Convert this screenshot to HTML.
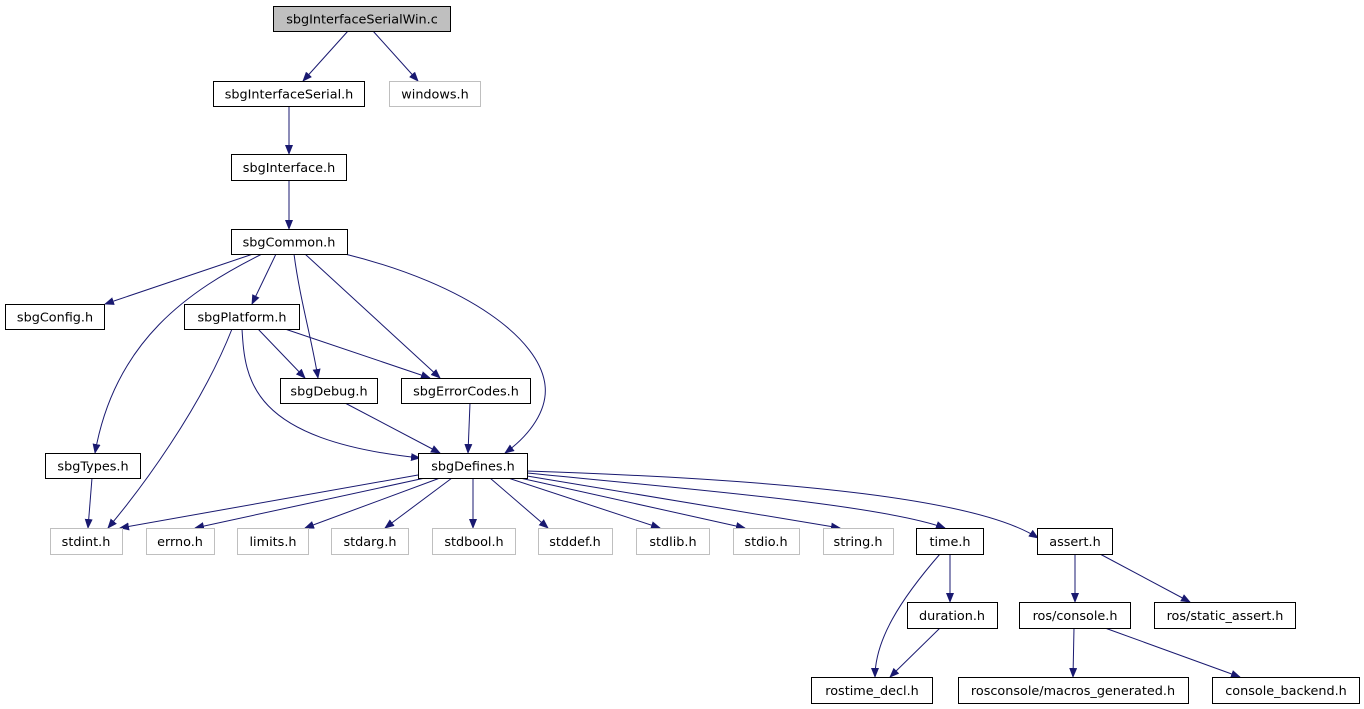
<!DOCTYPE html>
<html><head><meta charset="utf-8"><style>
html,body{margin:0;padding:0;background:#fff;width:1364px;height:709px;overflow:hidden}
svg text{font-family:"DejaVu Sans","Liberation Sans",sans-serif;font-size:12.8px;text-anchor:middle}
</style></head><body>
<svg width="1364" height="709" viewBox="0 0 1364 709" xmlns="http://www.w3.org/2000/svg">
<defs><marker id="a" markerWidth="10" markerHeight="8" refX="9" refY="4" orient="auto" markerUnits="userSpaceOnUse"><path d="M0,0 L10,4 L0,8 Z" fill="#191970"/></marker></defs>
<g fill="none" stroke="#191970" stroke-width="1" marker-end="url(#a)">
<path d="M348,31 L303,81"/>
<path d="M373,31 L418,81"/>
<path d="M289,106 L289,154"/>
<path d="M289,180 L289,229"/>
<path d="M253,254 L105,304"/>
<path d="M276,254 L252,304"/>
<path d="M262,254 C190,290 115,340 95,453"/>
<path d="M294,254 C300,300 312,340 318,378"/>
<path d="M305,254 L440,378"/>
<path d="M345,254 C470,285 540,340 545,385 C548,410 530,435 505,453"/>
<path d="M258,329 L305,378"/>
<path d="M285,329 L430,378"/>
<path d="M242,329 C245,380 250,440 420,458"/>
<path d="M232,329 C200,410 140,490 108,528"/>
<path d="M345,403 L440,453"/>
<path d="M470,403 L468,453"/>
<path d="M92,478 L88,528"/>
<path d="M418,475 L120,528"/>
<path d="M425,478 L195,528"/>
<path d="M440,478 L305,528"/>
<path d="M452,478 L385,528"/>
<path d="M473,478 L473,528"/>
<path d="M490,478 L548,528"/>
<path d="M508,478 L660,528"/>
<path d="M520,478 L745,528"/>
<path d="M527,476 L840,528"/>
<path d="M527,473 C700,490 880,505 945,528"/>
<path d="M527,471 C800,480 980,500 1038,538"/>
<path d="M950,554 L950,602"/>
<path d="M940,554 C900,600 875,640 875,677"/>
<path d="M940,628 L890,677"/>
<path d="M1075,554 L1075,602"/>
<path d="M1100,554 L1190,602"/>
<path d="M1074,628 L1073,677"/>
<path d="M1105,628 L1240,677"/>
</g>
<g stroke-width="1">
<rect x="273.5" y="6.5" width="177" height="25" fill="#bfbfbf" stroke="#000"/>
<g fill="#fff" stroke="#000">
<rect x="213.5" y="81.5" width="151" height="25"/>
<rect x="231.5" y="154.5" width="115" height="26"/>
<rect x="231.5" y="229.5" width="116" height="25"/>
<rect x="5.5" y="304.5" width="99" height="25"/>
<rect x="184.5" y="304.5" width="115" height="25"/>
<rect x="280.5" y="378.5" width="97" height="25"/>
<rect x="401.5" y="378.5" width="129" height="25"/>
<rect x="45.5" y="453.5" width="95" height="25"/>
<rect x="418.5" y="453.5" width="109" height="25"/>
<rect x="916.5" y="528.5" width="67" height="26"/>
<rect x="1037.5" y="528.5" width="75" height="26"/>
<rect x="907.5" y="602.5" width="90" height="26"/>
<rect x="1019.5" y="602.5" width="111" height="26"/>
<rect x="1154.5" y="602.5" width="141" height="26"/>
<rect x="811.5" y="677.5" width="121" height="26"/>
<rect x="958.5" y="677.5" width="230" height="26"/>
<rect x="1212.5" y="677.5" width="147" height="26"/>
</g>
<g fill="#fff" stroke="#bfbfbf">
<rect x="389.5" y="81.5" width="91" height="25"/>
<rect x="50.5" y="528.5" width="72" height="26"/>
<rect x="146.5" y="528.5" width="68" height="26"/>
<rect x="237.5" y="528.5" width="71" height="26"/>
<rect x="331.5" y="528.5" width="77" height="26"/>
<rect x="432.5" y="528.5" width="83" height="26"/>
<rect x="538.5" y="528.5" width="74" height="26"/>
<rect x="636.5" y="528.5" width="73" height="26"/>
<rect x="733.5" y="528.5" width="66" height="26"/>
<rect x="823.5" y="528.5" width="70" height="26"/>
</g>
</g>
<g fill="#000">
<text x="362" y="23.5">sbgInterfaceSerialWin.c</text>
<text x="289" y="98.5">sbgInterfaceSerial.h</text>
<text x="435" y="98.5">windows.h</text>
<text x="289" y="172">sbgInterface.h</text>
<text x="289" y="246.5">sbgCommon.h</text>
<text x="55" y="321.5">sbgConfig.h</text>
<text x="242" y="321.5">sbgPlatform.h</text>
<text x="329" y="395.5">sbgDebug.h</text>
<text x="466" y="395.5">sbgErrorCodes.h</text>
<text x="93" y="470.5">sbgTypes.h</text>
<text x="473" y="470.5">sbgDefines.h</text>
<text x="86" y="546">stdint.h</text>
<text x="180" y="546">errno.h</text>
<text x="273" y="546">limits.h</text>
<text x="370" y="546">stdarg.h</text>
<text x="474" y="546">stdbool.h</text>
<text x="575" y="546">stddef.h</text>
<text x="673" y="546">stdlib.h</text>
<text x="766" y="546">stdio.h</text>
<text x="858" y="546">string.h</text>
<text x="950" y="546">time.h</text>
<text x="1075" y="546">assert.h</text>
<text x="952" y="620">duration.h</text>
<text x="1075" y="620">ros/console.h</text>
<text x="1225" y="620">ros/static_assert.h</text>
<text x="872" y="695">rostime_decl.h</text>
<text x="1073" y="695">rosconsole/macros_generated.h</text>
<text x="1286" y="695">console_backend.h</text>
</g>
</svg>
</body></html>
